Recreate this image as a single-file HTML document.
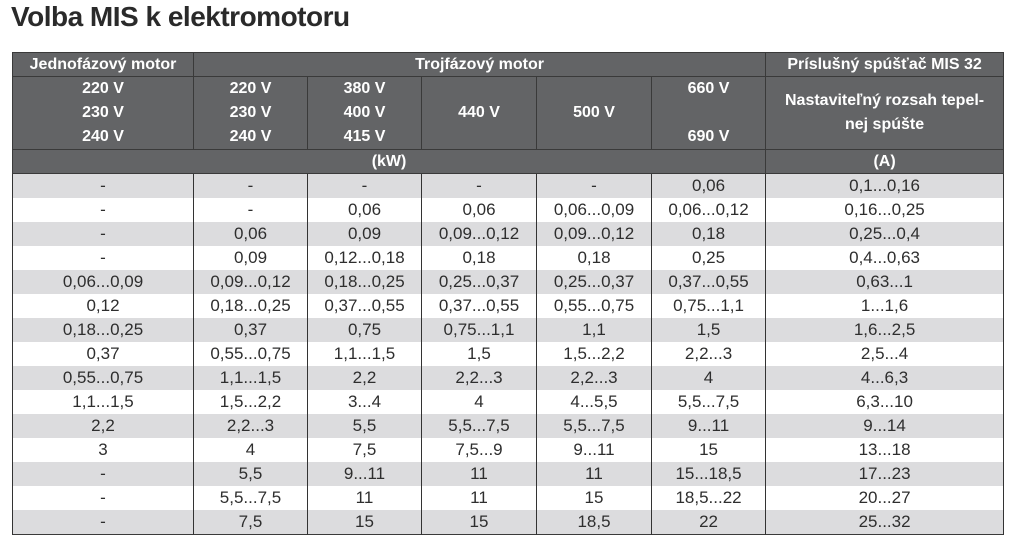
<!DOCTYPE html>
<html><head><meta charset="utf-8"><style>
body{margin:0;width:1015px;height:543px;background:#fff;overflow:hidden;font-family:"Liberation Sans",sans-serif;}
h1{position:absolute;left:11px;top:1px;margin:0;font-size:28px;font-weight:bold;color:#2a2a2a;letter-spacing:-0.5px;}
table{position:absolute;left:12px;top:52px;width:991px;border-collapse:collapse;table-layout:fixed;border:1.5px solid #3a3a3a;}
td{text-align:center;padding:0;border-left:1.5px solid #333;border-right:1.5px solid #333;font-size:17px;color:#2e2e2e;height:24px;line-height:24px;}
thead td{background:#636466;color:#fff;font-weight:bold;font-size:16px;border:1px solid #3a3a3a;}
.r1 td{height:23px;line-height:23px;}
.r2 td{height:72px;line-height:24px;}
.r3 td{height:23px;line-height:23px;}
tbody tr:nth-child(odd) td{background:#dcdcde;}
tbody tr:nth-child(even) td{background:#fff;}
</style></head><body>
<h1>Volba MIS k elektromotoru</h1>
<table>
<colgroup><col style="width:181px"><col style="width:114px"><col style="width:114px"><col style="width:115px"><col style="width:115px"><col style="width:114px"><col style="width:238px"></colgroup>
<thead>
<tr class="r1"><td>Jednofázový motor</td><td colspan="5">Trojfázový motor</td><td>Príslušný spúšťač MIS 32</td></tr>
<tr class="r2"><td>220 V<br>230 V<br>240 V</td><td>220 V<br>230 V<br>240 V</td><td>380 V<br>400 V<br>415 V</td><td>440 V</td><td>500 V</td><td>660 V<br><br>690 V</td><td>Nastaviteľný rozsah tepel-<br>nej spúšte</td></tr>
<tr class="r3"><td colspan="6">(kW)</td><td>(A)</td></tr>
</thead>
<tbody>
<tr><td>-</td><td>-</td><td>-</td><td>-</td><td>-</td><td>0,06</td><td>0,1...0,16</td></tr>
<tr><td>-</td><td>-</td><td>0,06</td><td>0,06</td><td>0,06...0,09</td><td>0,06...0,12</td><td>0,16...0,25</td></tr>
<tr><td>-</td><td>0,06</td><td>0,09</td><td>0,09...0,12</td><td>0,09...0,12</td><td>0,18</td><td>0,25...0,4</td></tr>
<tr><td>-</td><td>0,09</td><td>0,12...0,18</td><td>0,18</td><td>0,18</td><td>0,25</td><td>0,4...0,63</td></tr>
<tr><td>0,06...0,09</td><td>0,09...0,12</td><td>0,18...0,25</td><td>0,25...0,37</td><td>0,25...0,37</td><td>0,37...0,55</td><td>0,63...1</td></tr>
<tr><td>0,12</td><td>0,18...0,25</td><td>0,37...0,55</td><td>0,37...0,55</td><td>0,55...0,75</td><td>0,75...1,1</td><td>1...1,6</td></tr>
<tr><td>0,18...0,25</td><td>0,37</td><td>0,75</td><td>0,75...1,1</td><td>1,1</td><td>1,5</td><td>1,6...2,5</td></tr>
<tr><td>0,37</td><td>0,55...0,75</td><td>1,1...1,5</td><td>1,5</td><td>1,5...2,2</td><td>2,2...3</td><td>2,5...4</td></tr>
<tr><td>0,55...0,75</td><td>1,1...1,5</td><td>2,2</td><td>2,2...3</td><td>2,2...3</td><td>4</td><td>4...6,3</td></tr>
<tr><td>1,1...1,5</td><td>1,5...2,2</td><td>3...4</td><td>4</td><td>4...5,5</td><td>5,5...7,5</td><td>6,3...10</td></tr>
<tr><td>2,2</td><td>2,2...3</td><td>5,5</td><td>5,5...7,5</td><td>5,5...7,5</td><td>9...11</td><td>9...14</td></tr>
<tr><td>3</td><td>4</td><td>7,5</td><td>7,5...9</td><td>9...11</td><td>15</td><td>13...18</td></tr>
<tr><td>-</td><td>5,5</td><td>9...11</td><td>11</td><td>11</td><td>15...18,5</td><td>17...23</td></tr>
<tr><td>-</td><td>5,5...7,5</td><td>11</td><td>11</td><td>15</td><td>18,5...22</td><td>20...27</td></tr>
<tr><td>-</td><td>7,5</td><td>15</td><td>15</td><td>18,5</td><td>22</td><td>25...32</td></tr>
</tbody>
</table>
</body></html>
